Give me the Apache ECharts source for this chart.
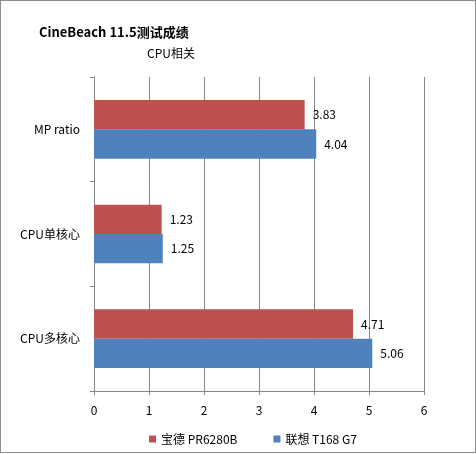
<!DOCTYPE html>
<head>
    <meta charset="utf-8">
    <title>ECharts</title>
    <style>
        html, body { margin: 0; padding: 0; background: #fff; }
        #main {
            width: 474px;
            height: 451px;
            border: 1px solid #8c8c8c;
        }
    </style>
</head>
<body>
<div id="main"></div>
<script src="https://cdn.jsdelivr.net/npm/echarts@6/dist/echarts.min.js"></script>
<script type="text/javascript">
    var categories = ['MP ratio', 'CPU单核心', 'CPU多核心'];
    var seriesNames = ['宝德 PR6280B', '联想 T168 G7'];
    var baode = [3.83, 1.23, 4.71];
    var lenovo = [4.04, 1.25, 5.06];
    var xTicks = [0, 6, 1];

    var font = 'Noto Sans CJK SC';
    var myChart = echarts.init(document.getElementById('main'));
    myChart.setOption({
        backgroundColor: '#fff',
        animation: false,
        title: [
            {
                text: 'CineBeach 11.5测试成绩',
                left: 38,
                top: 25,
                padding: 0,
                textStyle: { fontFamily: font, fontSize: 13, fontWeight: 'bold', color: '#000' }
            },
            {
                text: 'CPU相关',
                right: 280,
                top: 46,
                padding: 0,
                textStyle: { fontFamily: font, fontSize: 12, fontWeight: 'normal', color: '#000' }
            }
        ],
        legend: {
            bottom: 7,
            left: 148,
            itemWidth: 7,
            itemHeight: 7,
            itemGap: 36,
            icon: 'rect',
            padding: 0,
            textStyle: { fontFamily: font, fontSize: 12, color: '#000' },
            data: seriesNames
        },
        grid: { left: 93, right: 51, top: 76, bottom: 61 },
        xAxis: {
            type: 'value',
            min: xTicks[0],
            max: xTicks[1],
            interval: xTicks[2],
            axisLine: { show: true, lineStyle: { color: '#868686' } },
            axisTick: { show: true, length: 4, lineStyle: { color: '#868686' } },
            axisLabel: { color: '#000', fontFamily: font, fontSize: 12, margin: 13 },
            splitLine: { show: true, lineStyle: { color: '#868686' } }
        },
        yAxis: {
            type: 'category',
            inverse: true,
            data: categories,
            axisLine: { show: true, lineStyle: { color: '#868686' } },
            axisTick: { show: true, length: 4, lineStyle: { color: '#868686' } },
            axisLabel: { color: '#000', fontFamily: font, fontSize: 12, margin: 14 }
        },
        series: [
            {
                name: seriesNames[0],
                type: 'bar',
                data: baode,
                barGap: '0%',
                barCategoryGap: '44%',
                itemStyle: { color: '#C0504D' },
                label: { show: true, position: 'right', distance: 8, color: '#000', fontFamily: font, fontSize: 12 }
            },
            {
                name: seriesNames[1],
                type: 'bar',
                data: lenovo,
                barGap: '0%',
                barCategoryGap: '44%',
                itemStyle: { color: '#4F81BD' },
                label: { show: true, position: 'right', distance: 8, color: '#000', fontFamily: font, fontSize: 12 }
            }
        ]
    });
</script>
</body>
